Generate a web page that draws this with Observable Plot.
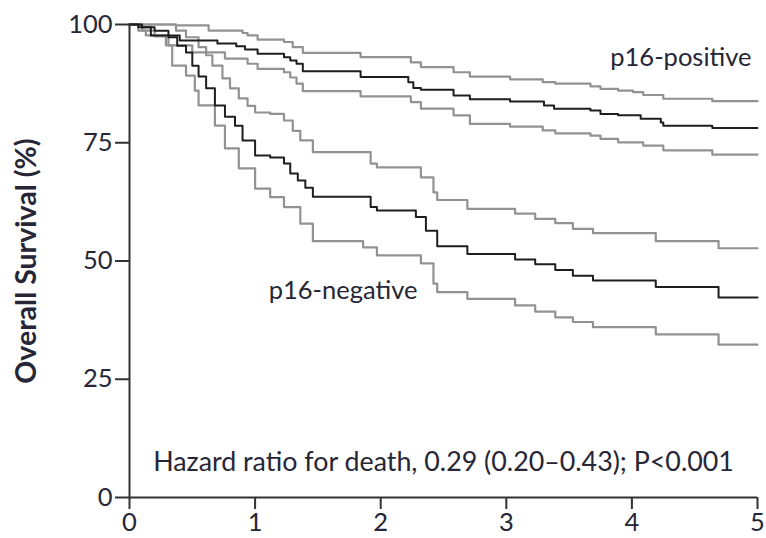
<!DOCTYPE html>
<html>
<head>
<meta charset="utf-8">
<script src="https://cdn.jsdelivr.net/npm/d3@7"></script>
<script src="https://cdn.jsdelivr.net/npm/@observablehq/plot@0.6"></script>
<style>
  html, body { margin: 0; padding: 0; background: #fff; }
  #chart svg { display: block; }
</style>
</head>
<body>
<div id="chart"></div>
<script>
// ---- Data (years, overall survival %) ----
const xTicks = [0, 1, 2, 3, 4, 5];
const yTicks = [0, 25, 50, 75, 100];

// p16-positive: estimate and 95% confidence bounds
const posMidT = [0, 0.10, 0.20, 0.31, 0.40, 0.70, 0.85, 0.92, 1.02, 1.23, 1.28, 1.33, 1.38, 1.84, 2.22, 2.26, 2.32, 2.58, 2.71, 3.03, 3.30, 3.38, 3.67, 3.75, 3.89, 4.07, 4.23, 4.25, 4.64, 5];
const posMidS = [100, 99.4, 98.7, 97.7, 96.6, 96.0, 95.4, 94.7, 93.8, 93.1, 92.4, 91.7, 90.1, 88.9, 87.8, 86.6, 86.2, 85.0, 84.2, 83.7, 82.9, 82.2, 81.8, 81.1, 80.8, 80.1, 79.3, 78.6, 78.1, 78.1];
const posHiT = [0, 0.37, 0.63, 0.90, 0.94, 1.02, 1.23, 1.30, 1.38, 1.84, 2.24, 2.32, 2.58, 2.71, 3.03, 3.29, 3.39, 3.67, 3.75, 3.89, 4.01, 4.09, 4.25, 4.64, 5];
const posHiS = [100, 99.8, 98.7, 98.2, 97.7, 96.8, 96.3, 95.2, 94.0, 93.1, 92.0, 91.0, 89.9, 89.0, 88.4, 87.8, 87.5, 86.9, 86.4, 86.0, 85.7, 85.1, 84.3, 83.8, 83.8];
const posLoT = [0, 0.10, 0.20, 0.29, 0.50, 0.76, 0.94, 1.02, 1.23, 1.28, 1.33, 1.38, 1.84, 2.24, 2.32, 2.58, 2.71, 3.03, 3.29, 3.39, 3.67, 3.75, 3.89, 4.09, 4.25, 4.64, 5];
const posLoS = [100, 98.7, 97.5, 95.6, 94.1, 92.8, 91.7, 90.6, 89.9, 88.8, 87.5, 85.9, 84.8, 83.6, 82.2, 80.8, 79.0, 78.4, 77.6, 77.0, 76.5, 75.8, 75.1, 74.4, 73.4, 72.5, 72.5];

// p16-negative: estimate and 95% confidence bounds
const negMidT = [0, 0.07, 0.17, 0.31, 0.38, 0.45, 0.50, 0.55, 0.61, 0.68, 0.76, 0.84, 0.90, 1.00, 1.12, 1.23, 1.28, 1.34, 1.40, 1.46, 1.92, 1.97, 2.28, 2.36, 2.45, 2.69, 3.07, 3.23, 3.39, 3.53, 3.69, 4.19, 4.69, 5];
const negMidS = [100, 99.4, 97.7, 97.3, 95.5, 94.1, 91.3, 89.0, 86.5, 82.9, 80.5, 78.6, 75.5, 72.3, 71.9, 70.6, 68.5, 67.0, 65.5, 63.6, 61.4, 60.7, 59.3, 56.4, 53.1, 51.5, 50.3, 49.3, 48.1, 46.9, 45.9, 44.5, 42.3, 42.3];
const negHiT = [0, 0.37, 0.45, 0.55, 0.61, 0.66, 0.74, 0.80, 0.87, 0.94, 1.00, 1.12, 1.23, 1.30, 1.36, 1.46, 1.92, 1.97, 2.32, 2.42, 2.45, 2.69, 3.07, 3.23, 3.39, 3.53, 3.69, 4.19, 4.69, 5];
const negHiS = [100, 98.7, 97.3, 95.2, 93.5, 91.3, 88.6, 86.5, 84.4, 82.8, 81.4, 81.1, 79.7, 77.5, 75.5, 73.0, 70.6, 69.8, 67.7, 64.5, 62.9, 61.0, 60.0, 58.9, 58.0, 56.8, 55.9, 54.2, 52.7, 52.7];
const negLoT = [0, 0.07, 0.13, 0.31, 0.34, 0.45, 0.52, 0.55, 0.68, 0.76, 0.87, 1.00, 1.12, 1.23, 1.36, 1.46, 1.86, 1.97, 2.32, 2.42, 2.45, 2.69, 3.07, 3.23, 3.39, 3.53, 3.69, 4.19, 4.69, 5];
const negLoS = [100, 98.7, 97.7, 95.6, 91.3, 89.2, 86.0, 82.9, 78.6, 73.8, 69.6, 65.3, 63.5, 61.4, 57.9, 54.2, 52.9, 51.2, 49.5, 45.2, 43.4, 42.0, 40.6, 39.3, 38.1, 37.1, 36.0, 34.5, 32.3, 32.3];

// Text annotations (data coordinates)
const labelTexts = ["p16-positive", "p16-negative", "Hazard ratio for death, 0.29 (0.20\u20130.43); P<0.001"];
const labelX = [4.39, 1.70, 2.50];
const labelY = [93.0, 43.7, 7.5];
const labelSize = [25.5, 25.5, 26.8];
const yTitle = "Overall Survival (%)";

// ---- Build table ----
const curves = [
  {id: "posHi", kind: "ci", t: posHiT, s: posHiS},
  {id: "posLo", kind: "ci", t: posLoT, s: posLoS},
  {id: "negHi", kind: "ci", t: negHiT, s: negHiS},
  {id: "negLo", kind: "ci", t: negLoT, s: negLoS},
  {id: "posMid", kind: "est", t: posMidT, s: posMidS},
  {id: "negMid", kind: "est", t: negMidT, s: negMidS}
];
const rows = curves.flatMap(c => c.t.map((t, i) => ({id: c.id, kind: c.kind, t, s: c.s[i]})));
const ciRows = rows.filter(d => d.kind === "ci");
const estRows = rows.filter(d => d.kind === "est");
const labels = labelTexts.map((text, i) => ({text, x: labelX[i], y: labelY[i], size: labelSize[i]}));

const textColor = "#262636";
const axisColor = "#333333";

const chart = Plot.plot({
  width: 766,
  height: 538,
  marginLeft: 129,
  marginRight: 9,
  marginTop: 24,
  marginBottom: 41,
  style: {fontFamily: "Lato, 'Open Sans', sans-serif", fontSize: "25.5px", color: textColor, background: "#fff"},
  x: {domain: [0, 5]},
  y: {domain: [0, 100]},
  marks: [
    Plot.line(ciRows, {x: "t", y: "s", z: "id", curve: "step-after", stroke: "#929292", strokeWidth: 2.2}),
    Plot.line(estRows, {x: "t", y: "s", z: "id", curve: "step-after", stroke: "#1e1e1e", strokeWidth: 2}),
    Plot.axisX({ticks: xTicks, tickSize: 12, tickPadding: 3, tickFormat: d => String(d), label: null, stroke: axisColor, strokeWidth: 2, fill: textColor}),
    Plot.axisY({ticks: yTicks, tickSize: 14, tickPadding: 3, tickFormat: d => String(d), label: null, stroke: axisColor, strokeWidth: 2, fill: textColor}),
    Plot.ruleX([0], {stroke: axisColor, strokeWidth: 2}),
    Plot.ruleY([0], {stroke: axisColor, strokeWidth: 2}),
    Plot.text(labels, {x: "x", y: "y", text: "text", fill: textColor, fontSize: "size", textAnchor: "middle"}),
    Plot.text([yTitle], {frameAnchor: "left", dx: -103, rotate: -90, textAnchor: "middle", fill: textColor, fontSize: 28.5, fontWeight: "bold"})
  ]
});
document.getElementById("chart").appendChild(chart);
</script>
</body>
</html>
